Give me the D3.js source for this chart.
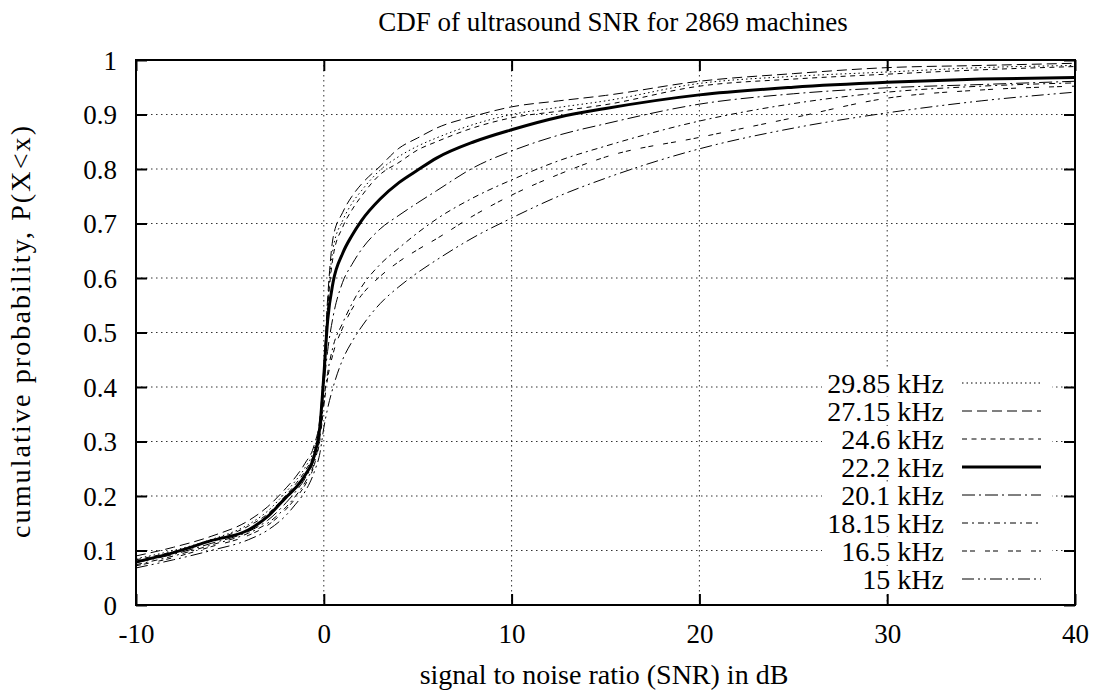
<!DOCTYPE html>
<html>
<head>
<meta charset="utf-8">
<script src="https://d3js.org/d3.v7.min.js"></script>
<style>
  body { margin: 0; background: #fff; }
  svg text { font-family: "Liberation Serif", "Times New Roman", serif !important; fill: #000; }
</style>
</head>
<body>
<svg width="1099" height="694"></svg>
<script>
  // SNR sample points (dB) shared by every curve
  var snr = [-10, -8, -6, -4, -3, -2, -1.5, -1, -0.5, -0.2, 0, 0.2, 0.5, 1, 1.5, 2, 3, 4, 5, 6, 8, 10, 12.5, 15, 20, 25, 30, 35, 40];

  // cumulative probability per frequency
  var cdf29_85 = [0.085, 0.1, 0.12, 0.148, 0.172, 0.208, 0.228, 0.252, 0.288, 0.337, 0.43, 0.55, 0.655, 0.705, 0.737, 0.76, 0.798, 0.823, 0.842, 0.857, 0.882, 0.9, 0.913, 0.925, 0.957, 0.97, 0.978, 0.986, 0.99];
  var cdf27_15 = [0.09, 0.106, 0.126, 0.155, 0.18, 0.215, 0.235, 0.26, 0.295, 0.345, 0.435, 0.56, 0.675, 0.72, 0.75, 0.772, 0.805, 0.838, 0.857, 0.875, 0.897, 0.914, 0.925, 0.935, 0.961, 0.975, 0.986, 0.99, 0.994];
  var cdf24_6  = [0.083, 0.098, 0.118, 0.145, 0.167, 0.202, 0.222, 0.246, 0.282, 0.332, 0.42, 0.54, 0.64, 0.693, 0.725, 0.75, 0.79, 0.812, 0.835, 0.85, 0.876, 0.894, 0.906, 0.918, 0.952, 0.965, 0.974, 0.982, 0.988];
  var cdf22_2  = [0.079, 0.096, 0.118, 0.138, 0.162, 0.198, 0.215, 0.238, 0.275, 0.33, 0.42, 0.52, 0.593, 0.645, 0.678, 0.705, 0.745, 0.775, 0.798, 0.82, 0.85, 0.872, 0.895, 0.911, 0.936, 0.95, 0.959, 0.965, 0.968];
  var cdf20_1  = [0.078, 0.093, 0.113, 0.135, 0.155, 0.188, 0.208, 0.232, 0.27, 0.32, 0.4, 0.465, 0.53, 0.592, 0.625, 0.652, 0.69, 0.715, 0.738, 0.76, 0.803, 0.833, 0.862, 0.883, 0.919, 0.938, 0.949, 0.955, 0.961];
  var cdf18_15 = [0.074, 0.09, 0.11, 0.132, 0.15, 0.18, 0.2, 0.225, 0.262, 0.31, 0.375, 0.425, 0.475, 0.517, 0.553, 0.583, 0.625, 0.655, 0.683, 0.708, 0.748, 0.78, 0.815, 0.842, 0.888, 0.92, 0.941, 0.952, 0.958];
  var cdf16_5  = [0.072, 0.087, 0.107, 0.128, 0.146, 0.176, 0.196, 0.22, 0.258, 0.305, 0.365, 0.415, 0.462, 0.508, 0.543, 0.568, 0.603, 0.63, 0.652, 0.672, 0.715, 0.752, 0.79, 0.822, 0.858, 0.894, 0.93, 0.945, 0.952];
  var cdf15    = [0.068, 0.083, 0.1, 0.12, 0.137, 0.165, 0.185, 0.208, 0.245, 0.28, 0.325, 0.36, 0.4, 0.45, 0.483, 0.51, 0.553, 0.584, 0.61, 0.633, 0.675, 0.71, 0.75, 0.783, 0.837, 0.875, 0.903, 0.925, 0.941];

  var labels = ["29.85 kHz", "27.15 kHz", "24.6 kHz", "22.2 kHz", "20.1 kHz", "18.15 kHz", "16.5 kHz", "15 kHz"];
  var series = [cdf29_85, cdf27_15, cdf24_6, cdf22_2, cdf20_1, cdf18_15, cdf16_5, cdf15];

  var xTicks = [-10, 0, 10, 20, 30, 40];
  var yTicks = [0, 0.1, 0.2, 0.3, 0.4, 0.5, 0.6, 0.7, 0.8, 0.9, 1];

  // gnuplot-ish line types
  var dashes = ["1.5,3", "10,5", "5,4.5", null, "13,4,2,4", "6,4,2,4", "5,3,5,10", "12,4,2,4,2,4"];
  var widths = [1, 1, 1, 3, 1, 1, 1, 1];

  var svg = d3.select("svg"),
    margin = { top: 60, right: 24, bottom: 89, left: 136 },
    width = 1099 - margin.left - margin.right,
    height = 694 - margin.top - margin.bottom,
    g = svg.append("g").attr("transform", "translate(" + margin.left + "," + margin.top + ")");

  var x = d3.scaleLinear().domain([-10, 40]).range([0, width]);
  var y = d3.scaleLinear().domain([0, 1]).range([height, 0]);

  // grid
  g.append("g").selectAll("line").data(xTicks.slice(1, -1)).enter().append("line")
    .attr("x1", function (d) { return x(d); }).attr("x2", function (d) { return x(d); })
    .attr("y1", 0).attr("y2", height)
    .attr("stroke", "#333").attr("stroke-width", 1).attr("stroke-dasharray", "1.5,3.5");
  g.append("g").selectAll("line").data(yTicks.slice(1, -1)).enter().append("line")
    .attr("y1", function (d) { return y(d); }).attr("y2", function (d) { return y(d); })
    .attr("x1", 0).attr("x2", width)
    .attr("stroke", "#333").attr("stroke-width", 1).attr("stroke-dasharray", "1.5,3.5");

  // axes with inward ticks, mirrored
  var tk = 11;
  var xb = g.append("g").attr("transform", "translate(0," + height + ")")
    .call(d3.axisBottom(x).tickValues(xTicks).tickSize(-tk).tickPadding(tk + 27).tickFormat(function (d) { return String(d); }));
  var xt = g.append("g").call(d3.axisTop(x).tickValues(xTicks).tickSize(-tk).tickFormat(""));
  var yl = g.append("g")
    .call(d3.axisLeft(y).tickValues(yTicks).tickSize(-tk).tickPadding(tk + 8).tickFormat(function (d) { return String(d); }));
  var yr = g.append("g").attr("transform", "translate(" + width + ",0)")
    .call(d3.axisRight(y).tickValues(yTicks).tickSize(-tk).tickFormat(""));
  [xb, xt, yl, yr].forEach(function (a) {
    a.attr("font-family", null).attr("font-size", null);
    a.select(".domain").remove();
    a.selectAll(".tick line").attr("stroke", "#000").attr("stroke-width", 2);
    a.selectAll("text").style("font-size", "27px");
  });
  xb.selectAll(".tick text").attr("dy", "0");
  yl.selectAll(".tick text").attr("dy", "0.35em");

  // curves
  g.append("clipPath").attr("id", "clip").append("rect").attr("width", width).attr("height", height);
  var line = d3.line()
    .curve(d3.curveMonotoneX)
    .x(function (d, i) { return x(snr[i]); })
    .y(function (d) { return y(d); });

  g.append("g").attr("clip-path", "url(#clip)").selectAll("path").data(series).enter().append("path")
    .attr("d", line)
    .attr("fill", "none")
    .attr("stroke", "#000")
    .attr("stroke-width", function (d, i) { return widths[i]; })
    .attr("stroke-dasharray", function (d, i) { return dashes[i]; });

  // legend
  var leg = g.append("g").selectAll("g").data(labels).enter().append("g")
    .attr("transform", function (d, i) { return "translate(0," + (383 - margin.top + i * 28) + ")"; });
  leg.append("rect").attr("x", 686).attr("y", -13).attr("width", 230).attr("height", 26).attr("fill", "#fff");
  leg.append("text").attr("x", 808).attr("dy", "0.35em").attr("text-anchor", "end")
    .style("font-size", "28px").text(function (d) { return d; });
  leg.append("line").attr("x1", 826).attr("x2", 905).attr("y1", 0).attr("y2", 0)
    .attr("stroke", "#000")
    .attr("stroke-width", function (d, i) { return widths[i]; })
    .attr("stroke-dasharray", function (d, i) { return dashes[i]; });

  // border
  g.append("rect").attr("width", width).attr("height", height)
    .attr("fill", "none").attr("stroke", "#000").attr("stroke-width", 2);

  // titles
  svg.append("text").attr("x", 613).attr("y", 31).attr("text-anchor", "middle")
    .style("font-size", "27px").text("CDF of ultrasound SNR for 2869 machines");
  svg.append("text").attr("x", 604).attr("y", 684).attr("text-anchor", "middle")
    .style("font-size", "28px").text("signal to noise ratio (SNR) in dB");
  svg.append("text").attr("transform", "translate(30,332) rotate(-90)").attr("text-anchor", "middle")
    .attr("textLength", 412).attr("lengthAdjust", "spacing")
    .style("font-size", "28px").text("cumulative probability, P(X<x)");
</script>
</body>
</html>
